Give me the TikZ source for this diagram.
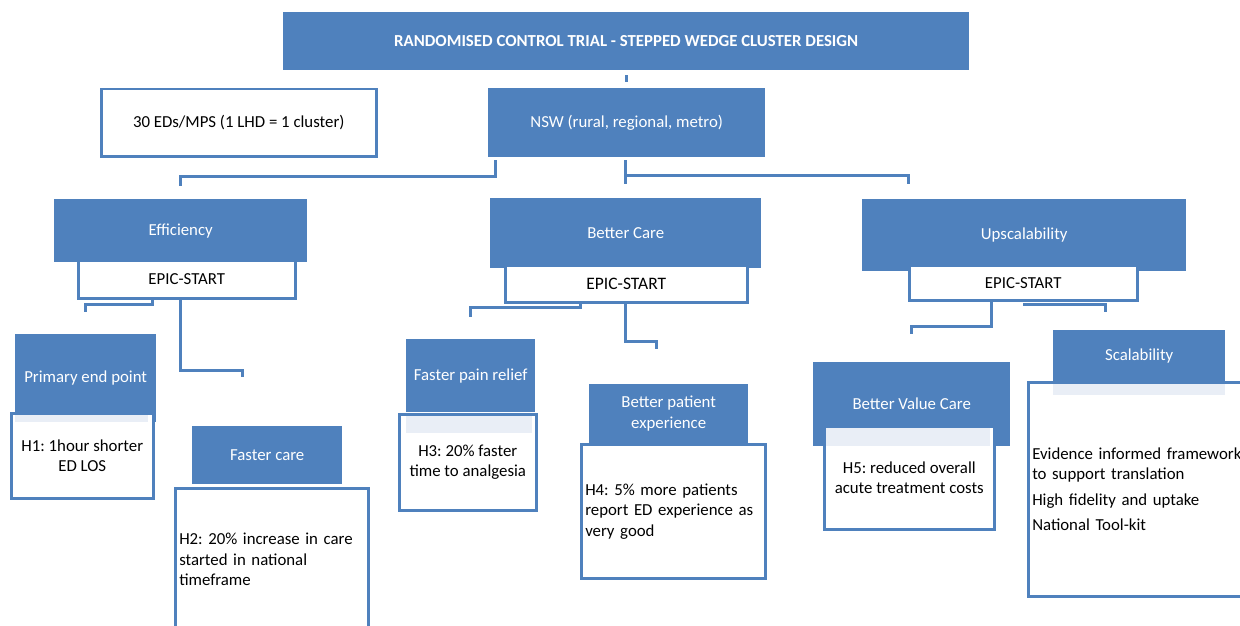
\documentclass[tikz,border=0pt]{standalone}
\usepackage{fontspec}
\setmainfont{Carlito}
\usepackage{xcolor}
\usepackage{tikz}
\definecolor{boxblue}{HTML}{4F81BD}
\definecolor{paleband}{HTML}{E9EEF6}
\frenchspacing

\begin{document}
\begin{tikzpicture}[x=1pt, y=-1pt,
    every node/.style={font=\fontsize{16.8}{20.5}\selectfont, inner sep=4pt},
    bluebox/.style={rectangle, fill=boxblue, text=white, anchor=north west, align=center},
    whitebox/.style={rectangle, draw=boxblue, line width=2.5pt, fill=white, anchor=north west, align=center},
    link/.style={draw=boxblue, line width=3pt}]
    \useasboundingbox (0,0) rectangle (1240,626);

    % Title
    \node[bluebox, font=\fontsize{16.8}{20}\selectfont\bfseries, minimum width=686pt, minimum height=58pt] (title) at (283,12) {RANDOMISED CONTROL TRIAL - STEPPED WEDGE CLUSTER DESIGN};

    % Sites
    \node[whitebox, minimum width=275pt, minimum height=67pt] (sites) at (100,88) {30 EDs/MPS (1 LHD = 1 cluster)};
    \node[bluebox, minimum width=277pt, minimum height=69pt] (nsw) at (488,88) {NSW (rural, regional, metro)};

    % Efficiency
    \node[bluebox, minimum width=253pt, minimum height=63pt] (eff) at (54,199) {Efficiency};
    \node[whitebox, minimum width=217pt, minimum height=38pt] (epicA) at (77,259) {EPIC-START};

    % Better Care
    \node[bluebox, minimum width=271pt, minimum height=70pt] (care) at (490,198) {Better Care};
    \node[whitebox, minimum width=242pt, minimum height=37pt, font=\fontsize{17.5}{20}\selectfont] (epicB) at (504,264) {EPIC-START};

    % Upscalability
    \node[bluebox, minimum width=324pt, minimum height=72pt] (ups) at (862,199) {Upscalability};
    \node[whitebox, minimum width=228pt, minimum height=35pt] (epicC) at (908,264) {EPIC-START};

    % Primary end point
    \node[bluebox, minimum width=141pt, minimum height=88pt] (primary) at (15,334) {Primary end point};
    \node[whitebox, minimum width=142pt, minimum height=85pt] (hypA) at (10,412) {H1: 1hour shorter\\ED LOS};
    \fill[paleband] (15,415) rectangle (148,422);

    % Faster care
    \node[bluebox, minimum width=150pt, minimum height=58pt] (fcare) at (192,426) {Faster care};
    \node[whitebox, minimum width=193pt, minimum height=143pt, text width=185pt, align=left] (hypB) at (174,487) {H2: 20\% increase in care\\started in national\\timeframe};

    % Faster pain relief
    \node[bluebox, minimum width=129pt, minimum height=73pt] (pain) at (406,339) {Faster pain relief};
    \node[whitebox, minimum width=137pt, minimum height=96pt] (hypC) at (398,413) {H3: 20\% faster\\time to analgesia};
    \fill[paleband] (406,416) rectangle (532,433);

    % Better patient experience
    \node[bluebox, minimum width=159pt, minimum height=59pt] (exper) at (589,384) {Better patient\\experience};
    \node[whitebox, minimum width=184pt, minimum height=134pt, text width=176pt, align=left] (hypD) at (580,443) {H4: 5\% more patients\\report ED experience as\\very good};

    % Better Value Care
    \node[bluebox, minimum width=197pt, minimum height=84pt] (value) at (813,362) {Better Value Care};
    \node[whitebox, minimum width=170pt, minimum height=103pt] (hypE) at (823,425) {H5: reduced overall\\acute treatment costs};
    \fill[paleband] (826,428) rectangle (990,446);

    % Scalability
    \node[bluebox, minimum width=172pt, minimum height=51pt] (scal) at (1053,330) {Scalability};
    \node[whitebox, minimum width=232pt, minimum height=214pt, text width=224pt, align=left] (kit) at (1027,381) {Evidence informed frameworks\\to support translation\\[5pt]High fidelity and uptake\\[5pt]National Tool-kit};
    \fill[paleband] (1053,384) rectangle (1225,395);

    % Connectors
    \draw[link] ([yshift=-5pt]title.south) -- ++(0,7);
    \draw[link] ([xshift=7pt,yshift=-3pt]nsw.south west) -- ++(0,16) -| ([yshift=13pt]eff.north);
    \draw[link] ([xshift=-1pt,yshift=-3pt]nsw.south) -- ++(0,24);
    \draw[link] ([xshift=-1pt,yshift=-18pt]nsw.south) -| ([xshift=46pt,yshift=15pt]ups.north west);
    \draw[link] ([xshift=75pt]epicA.south west) -- ++(0,5) -| ([yshift=22pt]primary.north);
    \draw[link] ([xshift=103pt]epicA.south west) -- ++(0,71) -| ([xshift=50pt,yshift=49pt]fcare.north west);
    \draw[link] ([xshift=76pt]epicB.south west) -- ++(0,4) -| ([yshift=22pt]pain.north);
    \draw[link] ([xshift=121pt]epicB.south west) -- ++(0,38) -| ([xshift=67pt,yshift=35pt]exper.north west);
    \draw[link] ([xshift=83pt]epicC.south west) -- ++(0,25) -| ([yshift=28pt]value.north);
    \draw[link] ([xshift=115pt,yshift=-3pt]epicC.south west) -| ([xshift=52pt,yshift=18pt]scal.north west);
\end{tikzpicture}
\end{document}
